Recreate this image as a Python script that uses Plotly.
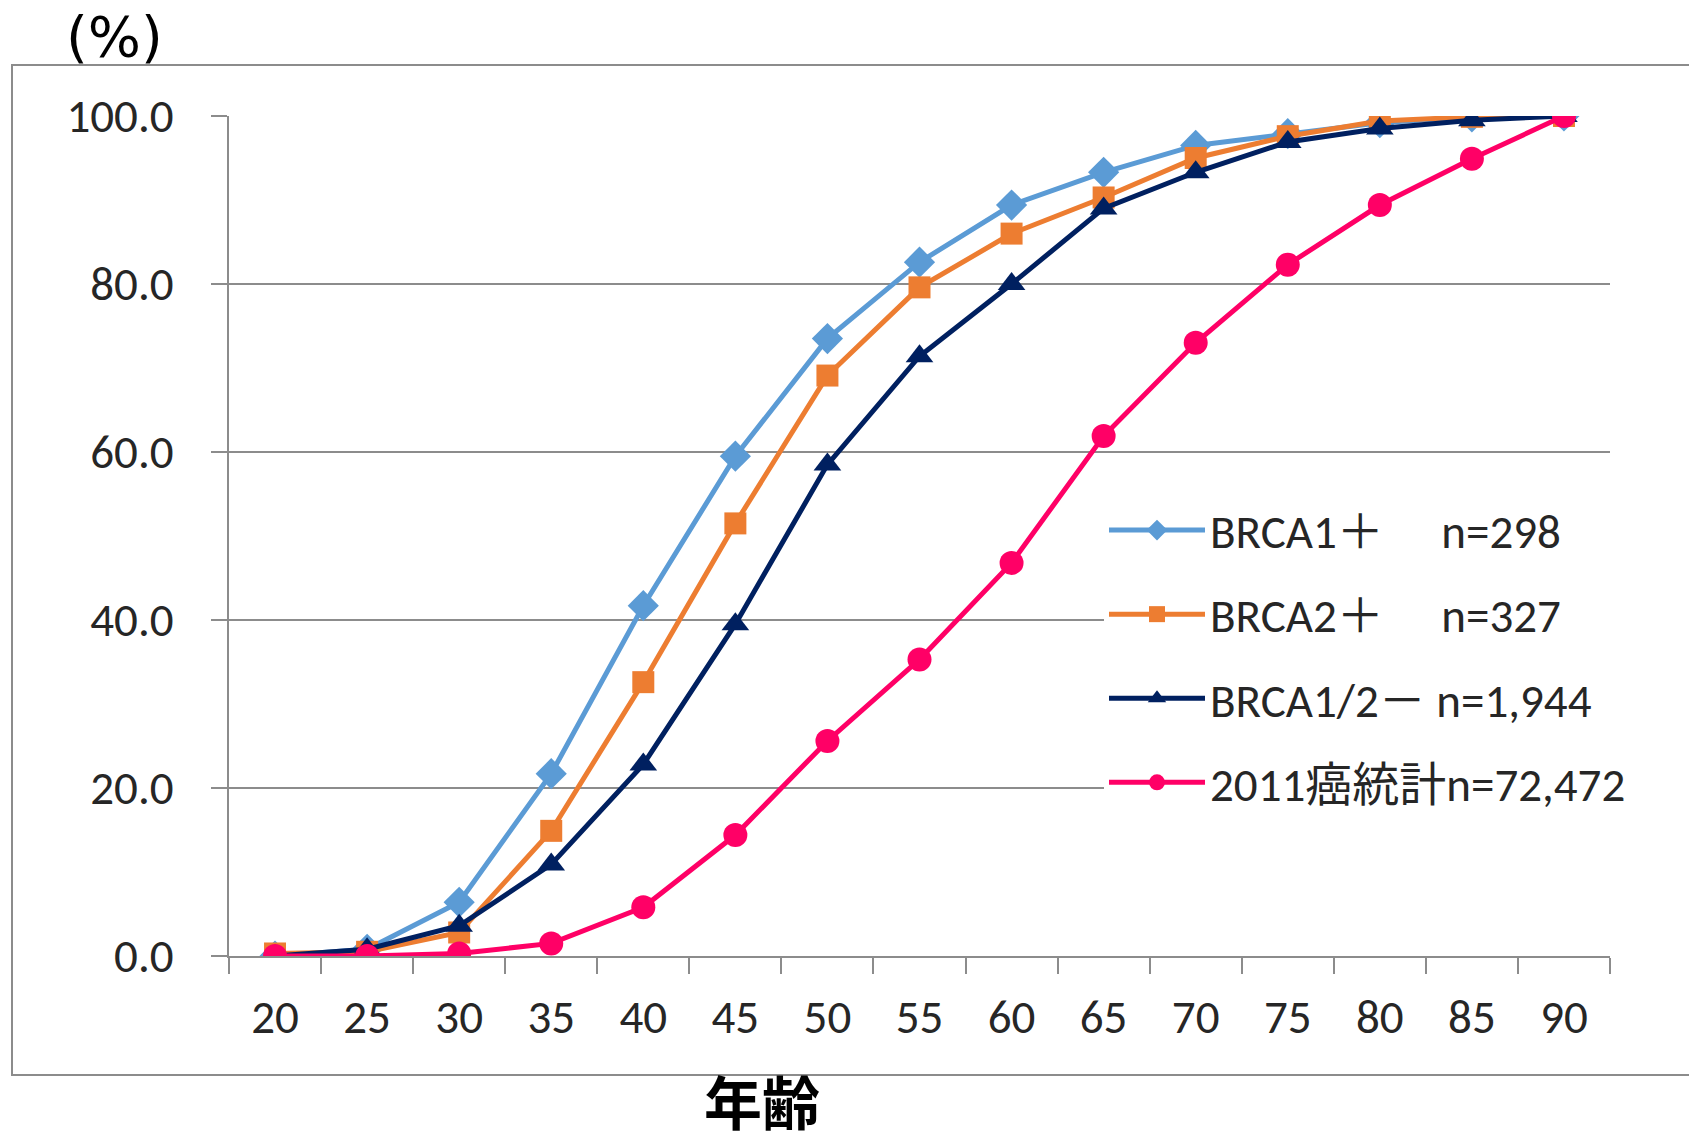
import plotly.graph_objects as go

ages = ["20", "25", "30", "35", "40", "45", "50", "55", "60", "65", "70", "75", "80", "85", "90"]

brca1_pos = [0.0, 0.8, 6.4, 21.7, 41.7, 59.5, 73.5, 82.6, 89.4, 93.3, 96.5, 97.9, 99.2, 99.9, 100.0]
brca2_pos = [0.3, 0.5, 2.8, 14.9, 32.6, 51.5, 69.1, 79.6, 86.0, 90.3, 95.0, 97.6, 99.4, 99.9, 100.0]
brca_neg = [0.0, 0.8, 3.6, 10.9, 22.8, 39.5, 58.5, 71.4, 80.0, 89.0, 93.3, 96.9, 98.5, 99.5, 100.0]
stats2011 = [0.0, 0.0, 0.3, 1.5, 5.8, 14.4, 25.6, 35.3, 46.8, 61.9, 73.0, 82.3, 89.4, 94.9, 100.0]

names = ["BRCA1＋　 n=298", "BRCA2＋　 n=327", "BRCA1/2－ n=1,944", "2011癌統計n=72,472"]
series = [brca1_pos, brca2_pos, brca_neg, stats2011]
colors = ["#5B9BD5", "#ED7D31", "#002060", "#FF0066"]
symbols = ["diamond", "square", "triangle-up", "circle"]
msizes = [24, 22, 24, 24]

LATIN = "Carlito, 'Open Sans', 'Noto Sans CJK JP', sans-serif"
CJK = "'Noto Sans CJK JP', sans-serif"
GRID = "#8C8C8C"
TXT = "#262626"
FS = 47

fig = go.Figure()
for nm, ys, c, s, ms in zip(names, series, colors, symbols, msizes):
    fig.add_trace(go.Scatter(
        x=ages, y=ys, name=nm, mode="lines+markers",
        line=dict(color=c, width=5),
        marker=dict(symbol=s, size=ms, color=c, line=dict(width=0)),
        legendgroup=nm,
    ))

W, H = 1689, 1141
L, R, T, B = 229, 79, 116, 185
pw, ph = W - L - R, H - T - B

def px(xp):
    return (xp - L) / pw

def py(yp):
    return (H - B - yp) / ph

fig.update_layout(
    width=W, height=H,
    margin=dict(l=L, r=R, t=T, b=B),
    paper_bgcolor="white", plot_bgcolor="white",
    font=dict(family=LATIN, size=FS, color=TXT),
    showlegend=True,
    legend=dict(
        x=px(1104), y=py(493), xanchor="left", yanchor="top",
        bgcolor="white", borderwidth=0,
        font=dict(family=LATIN, size=FS, color=TXT),
        tracegroupgap=20, itemwidth=96,
    ),
    xaxis=dict(
        type="category", range=[-0.5, 14.5],
        showgrid=False, showline=True, linecolor=GRID, linewidth=2,
        ticks="outside", ticklen=16, tickcolor=GRID, tickwidth=2,
        tickson="boundaries",
        tickfont=dict(family=LATIN, size=FS, color=TXT),
        ticklabelstandoff=19,
        zeroline=False,
    ),
    yaxis=dict(
        range=[0, 100], dtick=20, tickformat=".1f",
        showgrid=True, gridcolor=GRID, gridwidth=2,
        showline=True, linecolor=GRID, linewidth=2,
        ticks="outside", ticklen=16, tickcolor=GRID, tickwidth=2,
        tickfont=dict(family=LATIN, size=FS, color=TXT),
        ticklabelstandoff=28,
        zeroline=False,
    ),
    shapes=[
        dict(type="rect", xref="paper", yref="paper",
             x0=px(12), x1=px(1720), y0=py(1075), y1=py(65),
             line=dict(color=GRID, width=2), fillcolor="rgba(0,0,0,0)", layer="below"),
        dict(type="rect", xref="paper", yref="paper",
             x0=px(1090), x1=1.0, y0=py(815), y1=py(485),
             line=dict(width=0), fillcolor="white", layer="between"),
    ],
    annotations=[
        dict(text="(%)", xref="paper", yref="paper", x=px(115), y=py(37),
             xanchor="center", yanchor="middle", showarrow=False,
             font=dict(family="'DejaVu Sans', sans-serif", size=56, color="black")),
        dict(text="<b>年齢</b>", xref="paper", yref="paper", x=px(762), y=py(1100),
             xanchor="center", yanchor="middle", showarrow=False,
             font=dict(family=CJK, size=58, color="black")),
    ],
)

fig.write_html("out.html", config={"displayModeBar": False},
               post_script="document.body.style.margin='0';")
